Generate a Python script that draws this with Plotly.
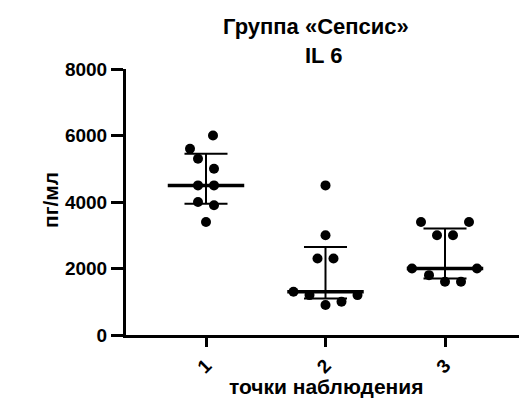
import numpy as np
import plotly.graph_objects as go

# ---- data ----
categories = [1, 2, 3]
tick_labels = ["1", "2", "3"]
values_1 = [6000, 5600, 5300, 5000, 4500, 4500, 4000, 3900, 3400]
values_2 = [4500, 3000, 2300, 2300, 1300, 1200, 1200, 900, 1000]
values_3 = [3400, 3400, 3000, 3000, 2000, 2000, 1800, 1600, 1600]
y_ticks = [0, 2000, 4000, 6000, 8000]

# beeswarm horizontal offsets (in px) for each point
swarm_1 = [7, -16, -8, 8, -8, 8, -8, 8, 0]
swarm_2 = [0, 0, -8, 8, -32, -16, 32, 0, 16]
swarm_3 = [-24, 24, -8, 8, -33, 32, -16, 0, 16]

title_line1 = "Группа «Сепсис»"
title_line2 = "IL 6"
x_title = "точки наблюдения"
y_title = "пг/мл"

# ---- layout geometry ----
W, H = 519, 400
ML, MR, MT, MB = 126, 0, 69, 65
PX_PER_CAT = 119.5
x_range = [1 - 80 / PX_PER_CAT, 1 + (W - ML - MR - 80) / PX_PER_CAT]

FONT = "Liberation Sans, Arial, sans-serif"

fig = go.Figure()

groups = [values_1, values_2, values_3]
swarms = [swarm_1, swarm_2, swarm_3]
MED_HALF = 0.32
CAP_HALF = 0.18

for cat, vals, sw in zip(categories, groups, swarms):
    arr = np.array(vals, dtype=float)
    med = float(np.median(arr))
    q1, q3 = np.percentile(arr, [25, 75], method="weibull")
    # error bars: vertical + caps
    fig.add_trace(go.Scatter(
        x=[cat, cat, None, cat - CAP_HALF, cat + CAP_HALF, None, cat - CAP_HALF, cat + CAP_HALF],
        y=[q1, q3, None, q1, q1, None, q3, q3],
        mode="lines", line=dict(color="black", width=2), hoverinfo="skip", showlegend=False))
    # points
    fig.add_trace(go.Scatter(
        x=[cat + s / PX_PER_CAT for s in sw], y=vals, mode="markers",
        marker=dict(color="black", size=10, line=dict(width=0)), showlegend=False))
    # median
    fig.add_trace(go.Scatter(
        x=[cat - MED_HALF, cat + MED_HALF], y=[med, med], mode="lines",
        line=dict(color="black", width=3.5), hoverinfo="skip", showlegend=False))

plot_w = W - ML - MR
plot_h = H - MT - MB

def px_to_paper(px, py):
    return (px - ML) / plot_w, (H - MB - py) / plot_h

def anno(text, px, py, size, angle=0):
    x, y = px_to_paper(px, py)
    return dict(text=text, x=x, y=y, xref="paper", yref="paper",
                xanchor="center", yanchor="middle", showarrow=False, textangle=angle,
                font=dict(family=FONT, size=size, color="black", weight="bold"))

annos = [
    anno(title_line1, 316, 27, 22),
    anno(title_line2, 324, 56, 22),
    anno(x_title, 325.5, 386, 21),
    anno(y_title, 51, 200, 21, -90),
]

fig.update_layout(
    width=W, height=H,
    margin=dict(l=ML, r=MR, t=MT, b=MB, pad=0),
    paper_bgcolor="white", plot_bgcolor="white",
    showlegend=False,
    annotations=annos,
    xaxis=dict(range=x_range, tickvals=categories, ticktext=tick_labels,
               tickangle=-45, ticks="outside", ticklen=9, tickwidth=3,
               tickcolor="black", showline=True, linecolor="black", linewidth=3,
               showgrid=False, zeroline=False, fixedrange=True,
               tickfont=dict(family=FONT, size=19, color="black", weight="bold")),
    yaxis=dict(range=[0, 8000], tickvals=y_ticks, ticks="outside", ticklen=12,
               tickwidth=3, tickcolor="black", showline=True, linecolor="black",
               linewidth=3, showgrid=False, zeroline=False, fixedrange=True,
               tickfont=dict(family=FONT, size=19, color="black", weight="bold")),
)

fig.write_html("out.html", config={"displayModeBar": False},
               post_script="document.body.style.margin='0';document.body.style.overflow='hidden';")
